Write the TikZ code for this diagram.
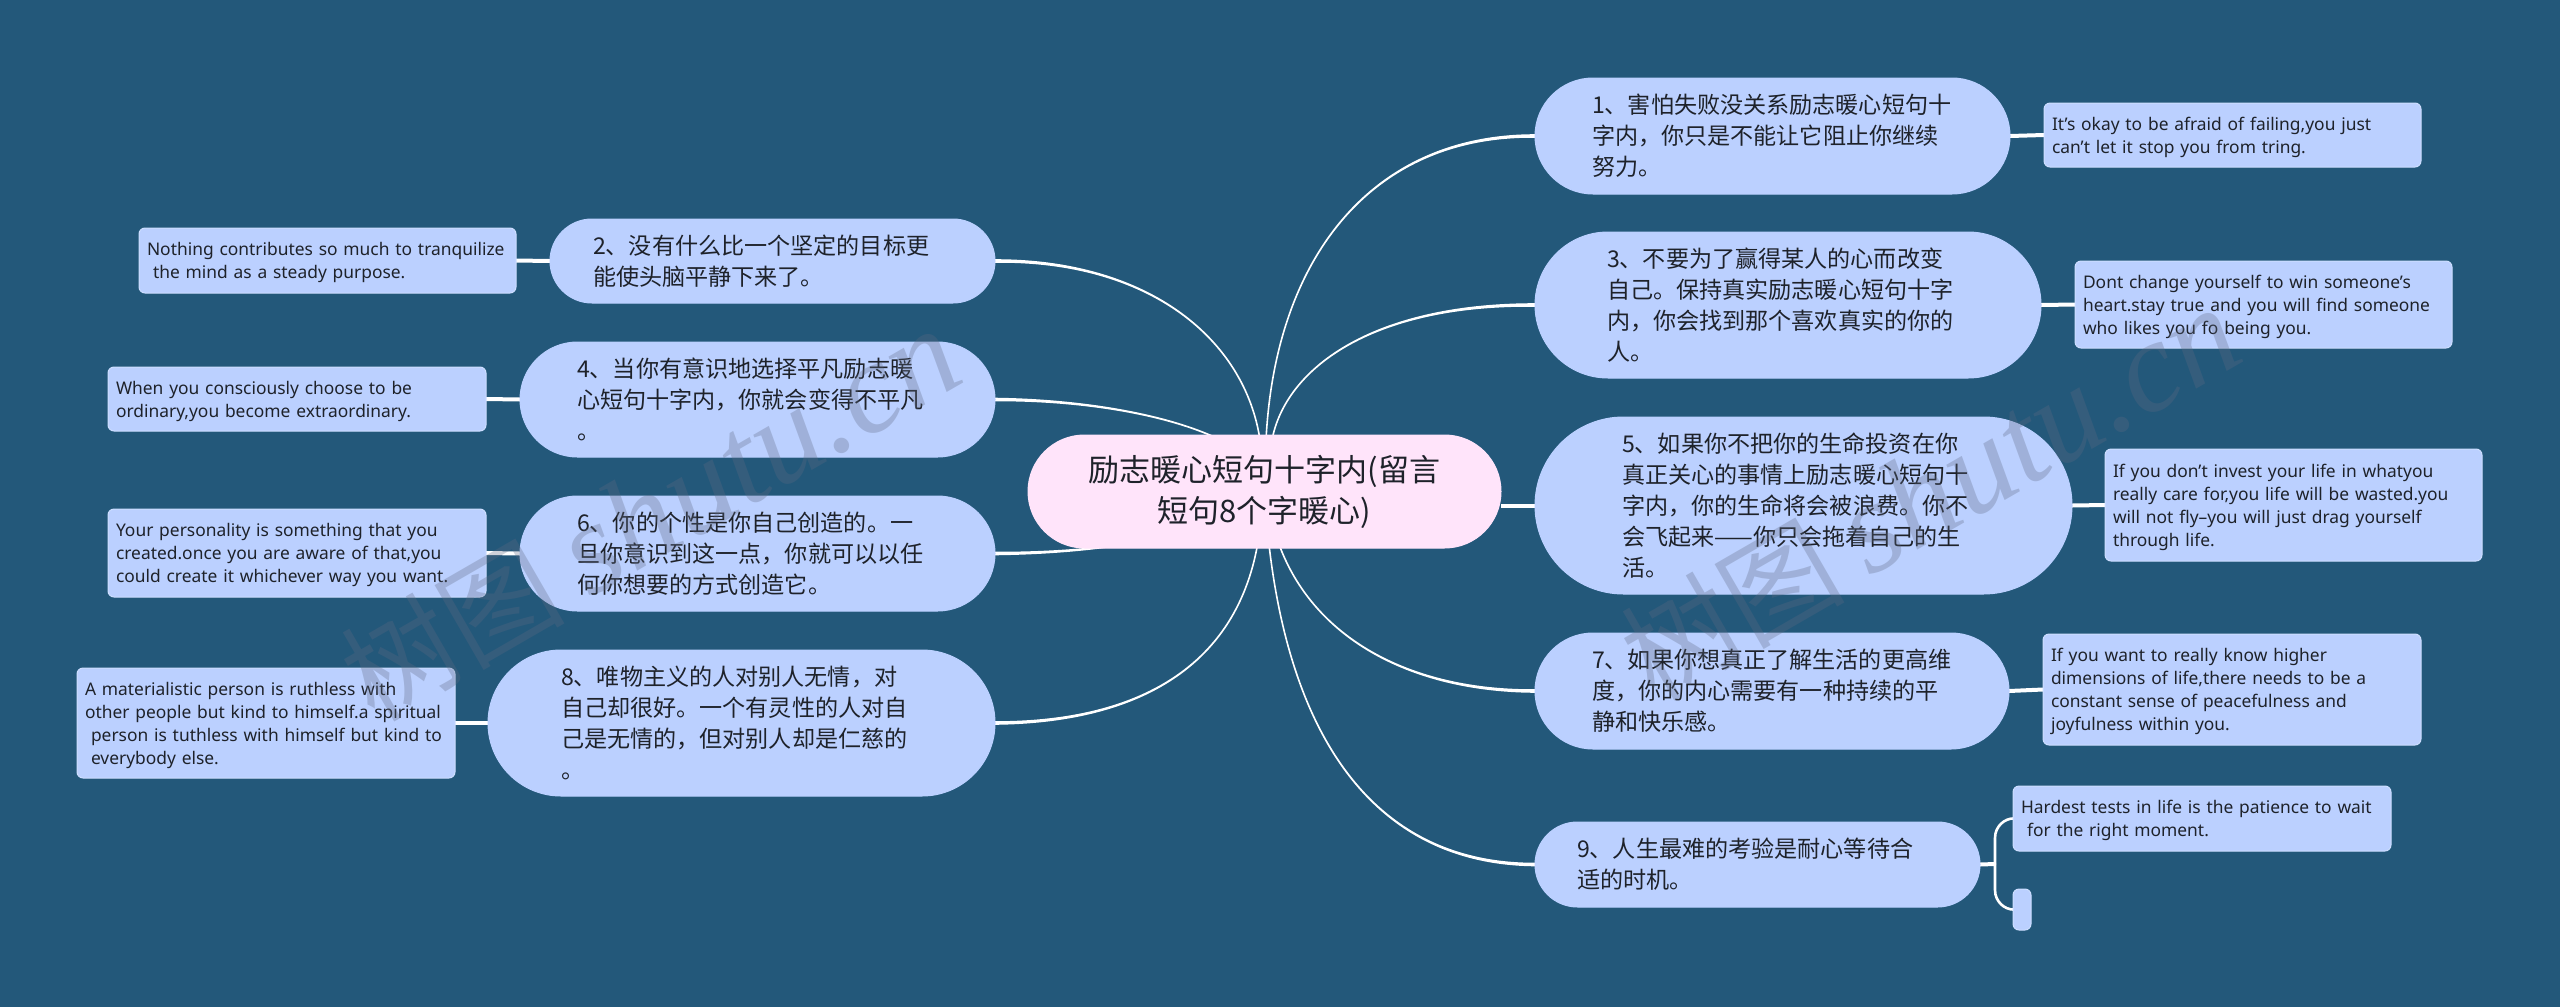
\documentclass[tikz,border=0pt]{standalone}
\usepackage{fontspec}
\usetikzlibrary{calc}
\setmainfont{Noto Sans}
\newfontfamily\cjk{Noto Sans CJK SC}
\newfontfamily\wmlatin{Liberation Serif}[ItalicFont=Liberation Serif Italic]
\definecolor{bgblue}{RGB}{35,88,122}
\definecolor{nodeblue}{RGB}{187,208,255}
\definecolor{edgeblue}{RGB}{205,222,255}
\definecolor{rootpink}{RGB}{255,228,250}
\definecolor{inkdark}{RGB}{30,34,42}
\definecolor{wmgray}{RGB}{95,105,130}
\pgfdeclarelayer{under}
\pgfsetlayers{under,main}
\tikzset{
  x=1pt,y=-1pt,
  every node/.style={outer sep=0pt,inner ysep=0pt,text=inkdark},
  rootpill/.style={draw=rootpink,line width=1pt,fill=rootpink,rounded corners=\halfh pt,align=center,font=\cjk\fontsize{31}{41}\selectfont},
  branchpill/.style={draw=nodeblue,line width=1pt,fill=nodeblue,rounded corners=\halfh pt,align=left,font=\cjk\fontsize{23.1}{31}\selectfont},
  leafbox/.style={draw=edgeblue,line width=1pt,fill=nodeblue,rounded corners=6pt,align=left,font=\fontsize{17.4}{23}\selectfont},
  tiplink/.style={draw=white,line width=4pt},
  bracelink/.style={draw=white,line width=2.6pt,line cap=round},
  tapered/.style={fill=white,draw=white,line width=1.6pt,line join=round},
  watermark/.style={text=wmgray,opacity=.3,rotate=30,font=\cjk\fontsize{112}{112}\selectfont,inner sep=0pt}
}
% style, name, x1, y1, x2, y2, side padding, text
\newcommand{\boxnode}[8]{%
  \pgfmathsetmacro\cenx{(#3+#5)/2}%
  \pgfmathsetmacro\ceny{(#4+#6)/2}%
  \pgfmathsetmacro\wid{#5-#3}%
  \pgfmathsetmacro\hei{#6-#4}%
  \pgfmathsetmacro\halfh{(#6-#4)/2}%
  \pgfmathsetmacro\txtw{#5-#3-2*#7}%
  \node[#1,minimum width=\wid pt,minimum height=\hei pt,text width=\txtw pt,inner xsep=#7 pt] (#2) at (\cenx,\ceny) {#8};%
}
% leaf text sits a little below the centre of its box
\newcommand{\leafnode}[7]{\boxnode{leafbox}{#1}{#2}{#3}{#4}{#5}{#6}{\rule{0pt}{18pt}#7}}
% start coordinate, control 1, control 2, end node; widens toward the end node
\newcommand{\taperlink}[4]{%
  \path[tapered] (#1) .. controls (#2) and (#3) .. ($(#4)+(0,-1)$) -- ($(#4)+(0,1)$) .. controls (#3) and (#2) .. (#1) -- cycle;%
}
\begin{document}
\begin{tikzpicture}
\useasboundingbox (0,0) rectangle (2560,1007);
\begin{pgfonlayer}{under}
  \fill[bgblue] (0,0) rectangle (2560,1007);
\end{pgfonlayer}

% root
\pgfmathsetmacro\halfh{56.5}
\node[rootpill,minimum width=473pt,minimum height=113pt,inner xsep=0pt] (root) at (1264.5,491.5) {励志暖心短句十字内(留言\\短句8个字暖心)};

% branches, right
\boxnode{branchpill}{b1}{1535}{78}{2010}{194}{57}{1、害怕失败没关系励志暖心短句十\\字内，你只是不能让它阻止你继续\\努力。}
\boxnode{branchpill}{b3}{1535}{232}{2041}{378}{72}{3、不要为了赢得某人的心而改变\\自己。保持真实励志暖心短句十字\\内，你会找到那个喜欢真实的你的\\人。}
\boxnode{branchpill}{b5}{1535}{417}{2072}{594}{87}{5、如果你不把你的生命投资在你\\真正关心的事情上励志暖心短句十\\字内，你的生命将会被浪费。你不\\会飞起来——你只会拖着自己的生\\活。}
\boxnode{branchpill}{b7}{1535}{633}{2009}{749}{57}{7、如果你想真正了解生活的更高维\\度，你的内心需要有一种持续的平\\静和快乐感。}
\boxnode{branchpill}{b9}{1535}{822}{1980}{907}{42}{9、人生最难的考验是耐心等待合\\适的时机。}

% branches, left
\boxnode{branchpill}{b2}{550}{219}{995}{303}{43}{2、没有什么比一个坚定的目标更\\能使头脑平静下来了。}
\boxnode{branchpill}{b4}{520}{342}{995}{457}{57}{4、当你有意识地选择平凡励志暖\\心短句十字内，你就会变得不平凡\\。}
\boxnode{branchpill}{b6}{520}{496}{995}{611}{57}{6、你的个性是你自己创造的。一\\旦你意识到这一点，你就可以以任\\何你想要的方式创造它。}
\boxnode{branchpill}{b8}{488}{650}{995}{796}{73}{8、唯物主义的人对别人无情，对\\自己却很好。一个有灵性的人对自\\己是无情的，但对别人却是仁慈的\\。}

% leaves, right
\leafnode{s1}{2044}{103}{2421}{167}{8}{It's okay to be afraid of failing,you just\\can't let it stop you from tring.}
\leafnode{s3}{2075}{261}{2452}{348}{8}{Dont change yourself to win someone's\\heart.stay true and you will find someone\\who likes you fo being you.}
\leafnode{s5}{2105}{449}{2482}{561}{8}{If you don't invest your life in whatyou\\really care for,you life will be wasted.you\\will not fly--you will just drag yourself\\through life.}
\leafnode{s7}{2043}{634}{2421}{745}{8}{If you want to really know higher\\dimensions of life,there needs to be a\\constant sense of peacefulness and\\joyfulness within you.}
\leafnode{s9}{2013}{786}{2391}{851}{8}{Hardest tests in life is the patience to wait\\\hspace*{6pt}for the right moment.}
\boxnode{leafbox}{s10}{2013}{889}{2031}{930}{0}{}

% leaves, left
\leafnode{s2}{139}{228}{516}{293}{8}{Nothing contributes so much to tranquilize\\\hspace*{6pt}the mind as a steady purpose.}
\leafnode{s4}{108}{367}{486}{431}{8}{When you consciously choose to be\\ordinary,you become extraordinary.}
\leafnode{s6}{108}{509}{486}{597}{8}{Your personality is something that you\\created.once you are aware of that,you\\could create it whichever way you want.}
\leafnode{s8}{77}{668}{455}{778}{8}{A materialistic person is ruthless with\\other people but kind to himself.a spiritual\\\hspace*{6pt}person is tuthless with himself but kind to\\\hspace*{6pt}everybody else.}

\coordinate (c1) at (1266,440);
\coordinate (c3) at (1272,440);
\coordinate (c2) at (1260,440);
\coordinate (c4) at (1262,470);
\coordinate (c6) at (1262,500);
\coordinate (c8) at (1262,500);
\coordinate (c7) at (1268,500);
\coordinate (c9) at (1265,500);
\coordinate (bracefork) at (1995,864);

\begin{pgfonlayer}{under}
  \taperlink{c1}{1275,260}{1370,135}{b1.west}
  \taperlink{c3}{1285,370}{1370,304}{b3.west}
  \taperlink{c7}{1285,620}{1390,691}{b7.west}
  \taperlink{c9}{1280,730}{1370,864}{b9.west}
  \taperlink{c2}{1245,340}{1150,260}{b2.east}
  \taperlink{c4}{1225,425}{1110,400}{b4.east}
  \taperlink{c6}{1205,535}{1110,553}{b6.east}
  \taperlink{c8}{1258,640}{1170,722}{b8.east}
  \draw[tiplink] (root.east |- b5.west) -- (b5.west);
  \draw[tiplink] (b1.east) -- (s1.west);
  \draw[tiplink] (b3.east) -- (s3.west);
  \draw[tiplink] (b5.east) -- (s5.west);
  \draw[tiplink] (b7.east) -- (s7.west);
  \draw[tiplink] (b9.east) -- (bracefork);
  \draw[tiplink] (s2.east) -- (b2.west);
  \draw[tiplink] (s4.east) -- (b4.west);
  \draw[tiplink] (s6.east) -- (b6.west);
  \draw[tiplink] (s8.east) -- (b8.west);
  \draw[bracelink] (bracefork) -- ++(0,-26) .. controls +(0,-12) and +(-8,0) .. (s9.west);
  \draw[bracelink] (bracefork) -- ++(0,26) .. controls +(0,12) and +(-8,0) .. (s10.west);
\end{pgfonlayer}

% watermarks
\node[watermark] (wm1) at (650,515) {树图 {\wmlatin\itshape\fontsize{130}{130}\selectfont shutu.cn}};
\node[watermark] (wm2) at (1930,494) {树图 {\wmlatin\itshape\fontsize{130}{130}\selectfont shutu.cn}};
\end{tikzpicture}
\end{document}
